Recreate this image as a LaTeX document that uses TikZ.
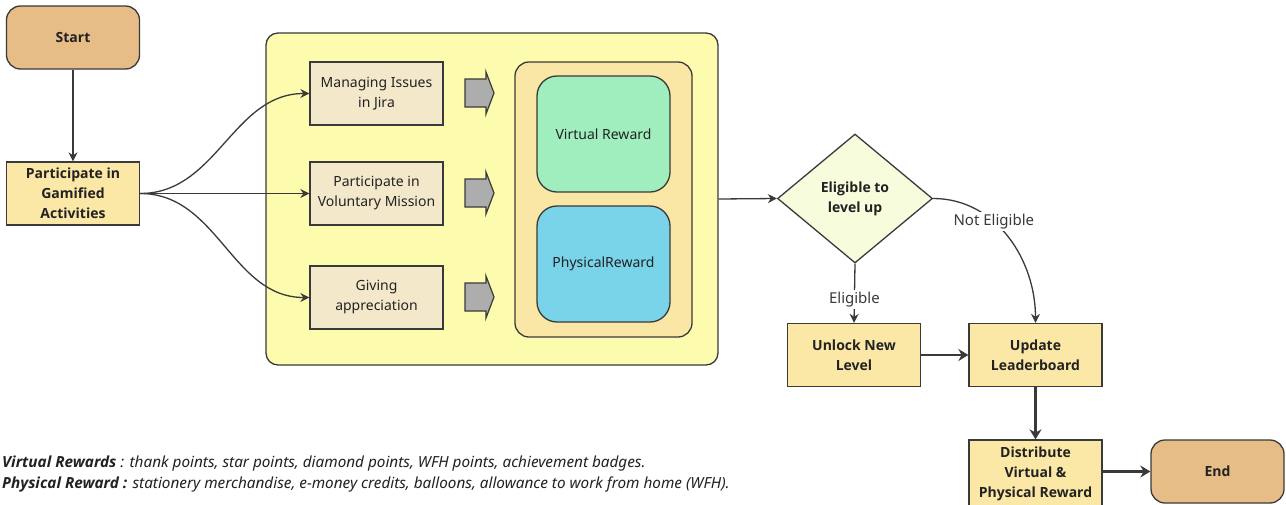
\documentclass[tikz,border=0pt]{standalone}
\usepackage{fontspec}
\setmainfont{Noto Sans}[BoldFont={Open Sans Bold}, BoldItalicFont={Open Sans Bold Italic}]
\usetikzlibrary{arrows.meta,shapes.geometric}
\definecolor{tan}{HTML}{E6BD87}
\definecolor{procfill}{HTML}{FBE8A6}
\definecolor{groupfill}{HTML}{FDFBAD}
\definecolor{actfill}{HTML}{F4E8CB}
\definecolor{rewfill}{HTML}{FBE7A5}
\definecolor{virtfill}{HTML}{A0EEBD}
\definecolor{physfill}{HTML}{7AD4E9}
\definecolor{decfill}{HTML}{F6FCDC}
\definecolor{linecol}{HTML}{3A3A3A}
\definecolor{txt}{HTML}{222222}
\tikzset{
	base/.style={draw=linecol, line width=1.3pt, text=txt, align=center, inner sep=2pt,
		font=\fontsize{14}{20}\selectfont},
	term/.style={base, fill=tan, rounded corners=14pt, minimum width=133, minimum height=63, font=\fontsize{14}{20}\selectfont\bfseries},
	proc/.style={base, fill=procfill, minimum width=133, minimum height=63, font=\fontsize{14}{20}\selectfont\bfseries},
	act/.style={base, fill=actfill, minimum width=133, minimum height=63},
	rew/.style={base, rounded corners=20pt, minimum width=133, minimum height=116},
	decision/.style={base, diamond, fill=decfill, minimum width=155, minimum height=129, inner sep=0pt, font=\fontsize{14}{20}\selectfont\bfseries},
	lbl/.style={fill=white, text=linecol, inner sep=2pt, font=\fontsize{15}{20}\selectfont},
	conn/.style={draw=linecol, line width=1.3pt, -{Stealth[length=9pt,width=9pt]}},
	thickconn/.style={draw=linecol, line width=2.8pt, -{Stealth[length=10pt,width=12pt]}},
	blockarr/.style={draw=linecol, line width=1.2pt, fill=black!32},
	legend/.style={text=txt, inner sep=0pt, font=\fontsize{15.3}{20}\selectfont\itshape}
}
\begin{document}
\begin{tikzpicture}[x=1pt,y=-1pt]
	\clip (0,0) rectangle (1286,504);
	\fill[white] (0,0) rectangle (1286,504);
	% left column
	\node[term] (start) at (73,37.5) {Start};
	\node[proc] (part) at (73,193.5) {Participate in\\Gamified\\Activities};
	% activities and rewards
	\node[base, fill=groupfill, rounded corners=12pt, minimum width=452, minimum height=332] (cont) at (492,199) {};
	\node[act] (jira) at (376.5,93.5) {Managing Issues\\in Jira};
	\node[act] (vol) at (376.5,193.5) {Participate in\\Voluntary Mission};
	\node[act] (give) at (376.5,297.5) {Giving\\appreciation};
	\foreach \y in {93,193,297}
		\draw[blockarr] (465,\y-14) -- (486,\y-14) -- (486,\y-21) -- (494,\y) -- (486,\y+21) -- (486,\y+14) -- (465,\y+14) -- cycle;
	\node[base, fill=rewfill, rounded corners=14pt, minimum width=177, minimum height=275] (rewards) at (603.5,199.5) {};
	\node[rew, fill=virtfill] (virt) at (603.5,134) {Virtual Reward};
	\node[rew, fill=physfill] (phys) at (603.5,264) {PhysicalReward};
	% decision part
	\node[decision] (elig) at (855,198.5) {Eligible to\\level up};
	\node[proc] (unlock) at (854,355) {Unlock New\\Level};
	\node[proc] (update) at (1035.5,355) {Update\\Leaderboard};
	\node[proc, minimum height=68] (dist) at (1035.5,474) {Distribute\\Virtual \&\\Physical Reward};
	\node[term] (end) at (1217.5,471.5) {End};
	% connectors
	\draw[conn] (start) -- (part);
	\draw[conn] (part.east) to[out=0,in=180] (jira.west);
	\draw[conn] (part.east) -- (vol.west);
	\draw[conn] (part.east) to[out=0,in=180] (give.west);
	\draw[conn] (cont.east) -- (elig.west);
	\draw[conn] (elig.south) -- node[lbl, pos=0.6] {Eligible} (unlock.north);
	\draw[conn] (elig.east) to[out=0,in=90] node[lbl, pos=0.38] {Not Eligible} (update.north);
	\draw[thickconn] (unlock) -- (update);
	\draw[thickconn] (update) -- (dist);
	\draw[thickconn] (dist.east |- end.west) -- (end.west);
	% legend
	\node[legend, anchor=base west] (leg1) at (2,467) {\textbf{Virtual Rewards} : thank points, star points, diamond points, WFH points, achievement badges.};
	\node[legend, anchor=base west] (leg2) at (2,488) {\textbf{Physical Reward :} stationery merchandise, e-money credits, balloons, allowance to work from home (WFH).};
\end{tikzpicture}
\end{document}
